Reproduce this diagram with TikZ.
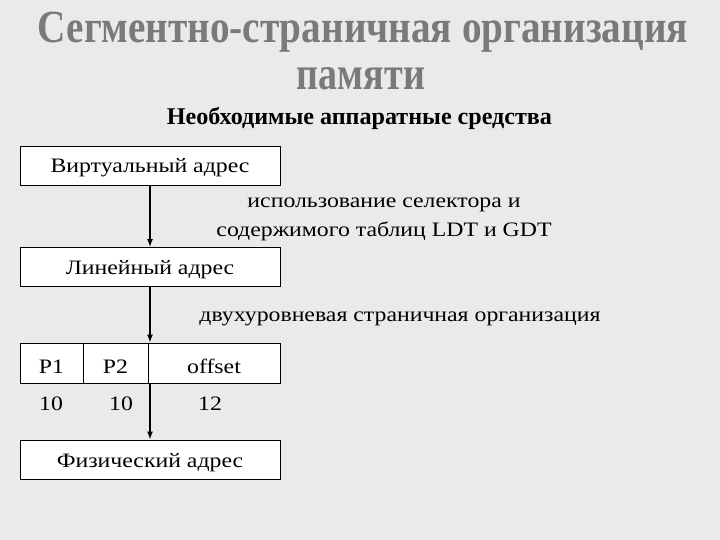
\documentclass[tikz,border=0pt]{standalone}
\usepackage{fontspec}
\newfontfamily\bodyfont{Liberation Serif}[FakeStretch=1.16]
\newfontfamily\headfont{Liberation Serif}
\usepackage{graphicx}
\usetikzlibrary{arrows.meta,positioning}
\definecolor{pagegray}{RGB}{234,234,234}
\tikzset{
  addrbox/.style={draw=black, fill=white, line width=0.8pt, minimum width=260pt,
    minimum height=39pt, inner sep=0pt, text height=15pt, text depth=0pt,
    font=\bodyfont\fontsize{20.5}{25}\selectfont},
  cell/.style={draw=black, fill=white, line width=0.8pt, minimum height=40pt,
    inner sep=0pt, text height=20pt, text depth=0pt,
    font=\bodyfont\fontsize{20.5}{25}\selectfont},
  flow/.style={-{Latex[length=8pt,width=6pt]}, line width=1.5pt},
  note/.style={font=\bodyfont\fontsize{20.5}{29}\selectfont, align=center},
  headline/.style={text=black, text opacity=0.48, font=\headfont\fontsize{24}{24}\selectfont\bfseries},
}

\begin{document}
\begin{tikzpicture}[x=1pt,y=-1pt]
    % Background
    \fill[pagegray] (0,0) rectangle (720,540);

    % Title
    \node[headline, anchor=base] (title) at (363,43) {\resizebox{650pt}{30.5pt}{Сегментно-страничная организация}};
    \node[headline, anchor=base] (title2) at (361,90) {\resizebox{128pt}{22pt}{памяти}};
    \node[anchor=base, font=\headfont\fontsize{24}{24}\selectfont\bfseries] (hw) at (359.5,125) {\resizebox{385pt}{\height}{Необходимые аппаратные средства}};

    % Addresses
    \node[addrbox] (virt) at (150,165.5) {Виртуальный адрес};
    \node[addrbox] (lin) at (150,267) {Линейный адрес};
    \node[addrbox] (phys) at (150,459.5) {Физический адрес};

    % Fields of the linear address
    \node[cell, minimum width=63pt] (p1) at (51.5,363) {P1};
    \node[cell, minimum width=65pt] (p2) at (115.5,363) {P2};
    \node[cell, minimum width=132pt] (off) at (214,363) {offset};
    \node[note, anchor=base] (n1) at (51,410) {10};
    \node[note, anchor=base] (n2) at (121,410) {10};
    \node[note, anchor=base] (n3) at (210,410) {12};

    % Steps
    \node[note] (seg) at (384,219) {использование селектора и\\содержимого таблиц LDT и GDT};
    \node[note, anchor=base] (pg) at (400,321) {двухуровневая страничная организация};

    \draw[flow] (virt) -- (lin);
    \draw[flow] (lin.south) -- (lin.south |- off.north);
    \draw[flow] (phys.north |- off.south) -- (phys.north);
\end{tikzpicture}
\end{document}
